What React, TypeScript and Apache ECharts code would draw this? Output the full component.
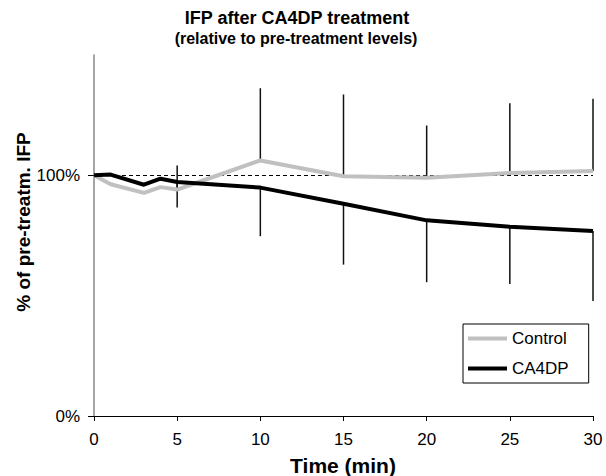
import React, { useEffect, useRef } from "react";
import * as echarts from "echarts";

const controlTimes = [0, 1, 3, 4, 5, 6, 10, 15, 20, 25, 30];
const controlValues = [100, 96.3, 92.7, 95.1, 94.1, 96.5, 106.2, 99.6, 99.0, 101.0, 101.8];
const ca4dpTimes = [0, 1, 3, 4, 5, 10, 15, 20, 25, 30];
const ca4dpValues = [100, 100.3, 96.1, 98.6, 97.2, 94.9, 88.2, 81.3, 78.6, 76.9];
const errTimes = [5, 10, 15, 20, 25, 30];
const controlErrPlus = [10, 30, 34, 21.7, 29, 30];
const ca4dpErrMinus = [10.6, 20.2, 25.3, 25.7, 23.8, 29.1];
const yTicks = [0, 100];
const xTicks = [0, 5, 10, 15, 20, 25, 30];

const FONT = "'Liberation Sans', Arial, sans-serif";

export default function App() {
  const ref = useRef<HTMLDivElement>(null);
  useEffect(() => {
    document.body.style.margin = "0";
    const chart = echarts.init(ref.current!, null, { renderer: "svg" });
    const errData: number[][] = [];
    errTimes.forEach((t, i) => {
      const ci = controlTimes.indexOf(t);
      const ai = ca4dpTimes.indexOf(t);
      errData.push([t, controlValues[ci], controlValues[ci] + controlErrPlus[i]]);
      errData.push([t, ca4dpValues[ai], ca4dpValues[ai] - ca4dpErrMinus[i]]);
    });
    chart.setOption({
      animation: false,
      backgroundColor: "#fff",
      textStyle: { fontFamily: FONT },
      grid: { left: 94, right: 13, top: 55, bottom: 60 },
      graphic: [
        { type: "text", x: 297, y: 9, style: { text: "IFP after CA4DP treatment", font: "bold 18px " + FONT, fill: "#000", align: "center" } },
        { type: "text", x: 296, y: 30, style: { text: "(relative to pre-treatment levels)", font: "bold 16px " + FONT, fill: "#000", align: "center" } },
        { type: "text", x: 23, y: 222, rotation: Math.PI / 2, style: { text: "% of pre-treatm. IFP", font: "bold 19px " + FONT, fill: "#000", align: "center", verticalAlign: "middle" } },
        { type: "text", x: 343, y: 455, style: { text: "Time (min)", font: "bold 21px " + FONT, fill: "#000", align: "center" } },
      ],
      legend: {
        orient: "vertical",
        left: 463,
        top: 324,
        padding: [6, 20, 6, 5],
        itemGap: 13,
        itemWidth: 39,
        itemHeight: 4,
        icon: "rect",
        borderColor: "#000",
        borderWidth: 1,
        borderRadius: 0,
        textStyle: { fontSize: 17, color: "#000", fontFamily: FONT },
        data: ["Control", "CA4DP"],
      },
      xAxis: {
        type: "value",
        min: 0,
        max: 30,
        interval: 5,
        splitLine: { show: false },
        axisLine: { lineStyle: { color: "#000", width: 1 } },
        axisTick: { show: true, length: 5, lineStyle: { color: "#000" }, customValues: xTicks },
        axisLabel: { fontSize: 17, color: "#000", margin: 15, fontFamily: FONT, customValues: xTicks },
      },
      yAxis: {
        type: "value",
        min: 0,
        max: 150,
        interval: 50,
        splitLine: { show: false },
        axisLine: { show: true, lineStyle: { color: "#888", width: 1.5 } },
        axisTick: { show: true, length: 6, lineStyle: { color: "#000" }, customValues: yTicks },
        axisLabel: { fontSize: 17, color: "#000", margin: 14, fontFamily: FONT, customValues: yTicks, formatter: (v: number) => v + "%" },
      },
      series: [
        {
          type: "custom",
          name: "err",
          data: errData,
          z: 1,
          renderItem: (params: any, api: any) => {
            const p1 = api.coord([api.value(0), api.value(1)]);
            const p2 = api.coord([api.value(0), api.value(2)]);
            return {
              type: "line",
              shape: { x1: p1[0], y1: p1[1], x2: p2[0], y2: p2[1] },
              style: { stroke: "#111", lineWidth: 1.5 },
            };
          },
          silent: true,
        },
        {
          type: "line",
          name: "Control",
          data: controlTimes.map((t, i) => [t, controlValues[i]]),
          showSymbol: false,
          symbol: "none",
          color: "#c0c0c0",
          lineStyle: { color: "#c0c0c0", width: 4 },
          z: 3,
          markLine: {
            silent: true,
            symbol: "none",
            label: { show: false },
            lineStyle: { color: "#000", type: [4, 3], width: 1 },
            data: [{ yAxis: 100 }],
            z: 2,
          },
        },
        {
          type: "line",
          name: "CA4DP",
          data: ca4dpTimes.map((t, i) => [t, ca4dpValues[i]]),
          showSymbol: false,
          symbol: "none",
          color: "#000",
          lineStyle: { color: "#000", width: 4 },
          z: 4,
        },
      ],
    });
    return () => chart.dispose();
  }, []);
  return <div ref={ref} style={{ width: 606, height: 476 }} />;
}
